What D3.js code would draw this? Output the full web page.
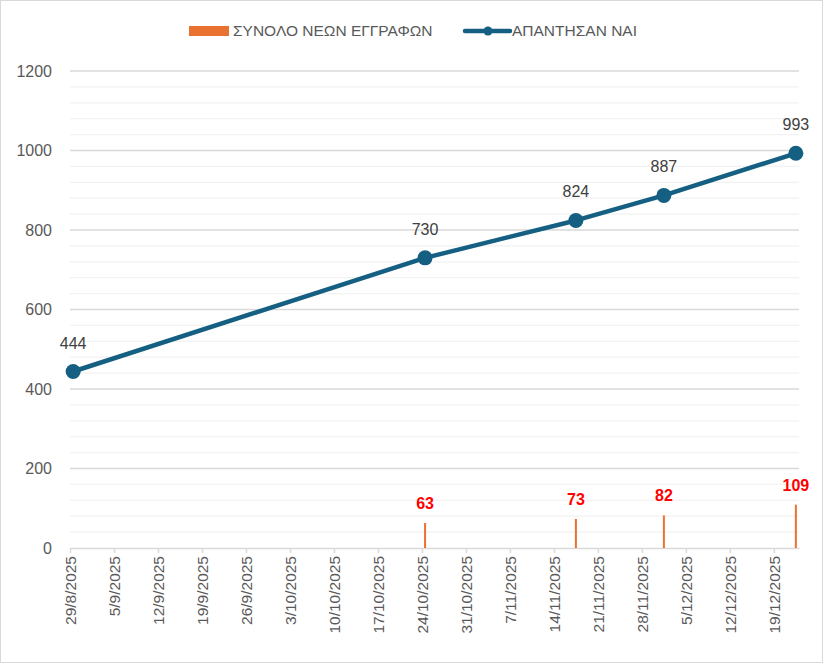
<!DOCTYPE html>
<html>
<head>
<meta charset="utf-8">
<script src="https://cdn.jsdelivr.net/npm/d3@7"></script>
<style>
  body { margin: 0; background: #fff; }
  text { font-family: "Liberation Sans", Arial, sans-serif; }
</style>
</head>
<body>
<svg id="chart" width="823" height="663"></svg>
<script>
// data
var lineDates = ["2025-08-29", "2025-10-24", "2025-11-17", "2025-12-01", "2025-12-22"];
var lineValues = [444, 730, 824, 887, 993];
var barDates = ["2025-10-24", "2025-11-17", "2025-12-01", "2025-12-22"];
var barValues = [63, 73, 82, 109];
var seriesNames = ["ΣΥΝΟΛΟ ΝΕΩΝ ΕΓΓΡΑΦΩΝ", "ΑΠΑΝΤΗΣΑΝ ΝΑΙ"];
var yTicks = [0, 200, 400, 600, 800, 1000, 1200];

var svg = d3.select("#chart");
var W = +svg.attr("width"), H = +svg.attr("height");
var margin = { top: 71, right: 24, bottom: 115, left: 70 };
var width = W - margin.left - margin.right;
var height = H - margin.top - margin.bottom;

var parse = d3.utcParse("%Y-%m-%d");
var halfDay = 12 * 3600 * 1000;
var lineData = lineDates.map(function(d, i) { return { date: new Date(+parse(d) + halfDay), value: lineValues[i] }; });
var barData = barDates.map(function(d, i) { return { date: new Date(+parse(d) + halfDay), value: barValues[i] }; });

// outer border
svg.append("rect")
    .attr("x", 0.5).attr("y", 0.5)
    .attr("width", W - 1).attr("height", H - 1)
    .attr("fill", "#fff").attr("stroke", "#d9d9d9");

var g = svg.append("g")
    .attr("transform", "translate(" + margin.left + "," + margin.top + ")");

var x = d3.scaleUtc()
    .domain([parse("2025-08-29"), parse("2025-12-23")])
    .range([0, width]);

var y = d3.scaleLinear()
    .domain([0, 1200])
    .range([height, 0]);

// minor gridlines
g.append("g").selectAll("line")
    .data(d3.range(40, 1200, 40).filter(function(v) { return v % 200 !== 0; }))
    .enter().append("line")
    .attr("x1", 0).attr("x2", width)
    .attr("y1", function(d) { return y(d); })
    .attr("y2", function(d) { return y(d); })
    .attr("stroke", "#f2f2f2").attr("stroke-width", 1.3);

// major gridlines
g.append("g").selectAll("line")
    .data(yTicks.slice(1))
    .enter().append("line")
    .attr("x1", 0).attr("x2", width)
    .attr("y1", function(d) { return y(d); })
    .attr("y2", function(d) { return y(d); })
    .attr("stroke", "#d9d9d9").attr("stroke-width", 1.3);

// y axis labels
var yAxis = g.append("g")
    .call(d3.axisLeft(y).tickValues(yTicks).tickFormat(d3.format("d")).tickSize(0).tickPadding(18));
yAxis.select(".domain").remove();
yAxis.selectAll("text")
    .style("font-size", "16px")
    .style("font-family", "Liberation Sans, Arial, sans-serif")
    .attr("fill", "#595959");

// x axis
var xAxis = g.append("g")
    .attr("transform", "translate(0," + height + ")")
    .call(d3.axisBottom(x)
        .tickValues(d3.utcFriday.range(parse("2025-08-29"), parse("2025-12-23")))
        .tickFormat(d3.utcFormat("%-d/%-m/%Y"))
        .tickSize(5)
        .tickSizeOuter(0));
xAxis.select(".domain").attr("stroke", "#d9d9d9").attr("stroke-width", 1.5);
xAxis.selectAll(".tick line").attr("stroke", "#d9d9d9").attr("stroke-width", 1.5);
xAxis.selectAll("text")
    .attr("transform", "rotate(-90)")
    .attr("x", -8)
    .attr("y", 0)
    .attr("dy", "0.35em")
    .style("text-anchor", "end")
    .style("font-size", "15.5px")
    .style("font-family", "Liberation Sans, Arial, sans-serif")
    .attr("fill", "#595959");

// bars (thin)
g.selectAll(".bar")
    .data(barData)
    .enter().append("rect")
    .attr("class", "bar")
    .attr("x", function(d) { return x(d.date) - 1; })
    .attr("width", 2)
    .attr("y", function(d) { return y(d.value); })
    .attr("height", function(d) { return height - y(d.value); })
    .attr("fill", "#E97132");

g.selectAll(".bar-label")
    .data(barData)
    .enter().append("text")
    .attr("class", "bar-label")
    .attr("x", function(d) { return x(d.date); })
    .attr("y", function(d) { return y(d.value) - 14; })
    .attr("text-anchor", "middle")
    .style("font-size", "16px")
    .style("font-weight", "bold")
    .attr("fill", "#ff0000")
    .text(function(d) { return d.value; });

// line
var line = d3.line()
    .x(function(d) { return x(d.date); })
    .y(function(d) { return y(d.value); });

g.append("path")
    .datum(lineData)
    .attr("d", line)
    .attr("fill", "none")
    .attr("stroke", "#156082")
    .attr("stroke-width", 4.5)
    .attr("stroke-linejoin", "round");

g.selectAll(".dot")
    .data(lineData)
    .enter().append("circle")
    .attr("class", "dot")
    .attr("cx", function(d) { return x(d.date); })
    .attr("cy", function(d) { return y(d.value); })
    .attr("r", 7.5)
    .attr("fill", "#156082");

g.selectAll(".line-label")
    .data(lineData)
    .enter().append("text")
    .attr("class", "line-label")
    .attr("x", function(d) { return x(d.date); })
    .attr("y", function(d) { return y(d.value) - 23; })
    .attr("text-anchor", "middle")
    .style("font-size", "16px")
    .attr("fill", "#404040")
    .text(function(d) { return d.value; });

// legend
var legend = svg.append("g");
legend.append("rect")
    .attr("x", 189).attr("y", 26).attr("width", 40).attr("height", 10)
    .attr("fill", "#E97132");
legend.append("text")
    .attr("x", 233).attr("y", 36)
    .style("font-size", "15.5px")
    .attr("fill", "#595959")
    .text(seriesNames[0]);
legend.append("line")
    .attr("x1", 465).attr("x2", 510).attr("y1", 31).attr("y2", 31)
    .attr("stroke", "#156082").attr("stroke-width", 4.5).attr("stroke-linecap", "round");
legend.append("circle")
    .attr("cx", 488).attr("cy", 31).attr("r", 4.5)
    .attr("fill", "#156082");
legend.append("text")
    .attr("x", 512).attr("y", 36)
    .style("font-size", "15.5px")
    .attr("fill", "#595959")
    .text(seriesNames[1]);
</script>
</body>
</html>
